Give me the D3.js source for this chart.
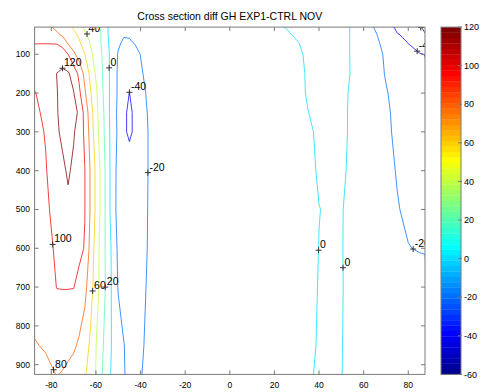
<!DOCTYPE html>
<html>
<head>
<meta charset="utf-8">
<script src="https://cdn.jsdelivr.net/npm/d3@7"></script>
<style>
  html, body { margin: 0; padding: 0; background: #fff; }
  svg { display: block; font-family: "Liberation Sans", Arial, Helvetica, sans-serif; }
</style>
</head>
<body>
<svg id="chart" width="485" height="392"></svg>
<script>
// Grid longitudes (deg) and pressure levels (hPa) of the GH difference field
const longitudes = [-87.5, -82.5, -77.5, -75, -72.5, -70, -67.5, -65, -62.5, -60, -57.5, -55, -52.5, -50,
  -47.5, -45, -42.5, -40, -37.5, -35, -32.5, -20, 0, 15, 25, 30, 35, 40, 45, 50, 55, 60, 65, 70, 75, 80, 85, 87.5];
const pressureLevels = [30, 50, 70, 100, 150, 200, 250, 300, 400, 500, 600, 700, 850, 925];

// GH difference EXP1-CTRL (m), one row per pressure level, one value per longitude
const gh30  = [91, 86, 75, 69, 64.5, 58, 49, 36, 30, 24.5, 18, 2.5, -12, -14, -15, -15, -14, -13, -12, -11, -10, -9, -8, -4, 0.3, 3, 5, 6, 5, 3, -1, -12, -21, -32, -43, -50, -59, -62];
const gh50  = [95, 91, 84, 77, 70, 64.5, 57, 44, 34, 26.5, 19.4, 3, -13, -16, -18.5, -18, -16.5, -15, -13, -12, -11, -10, -9, -5, -2.5, 1.8, 4.5, 5.5, 5, 3, -1, -11, -18, -27.5, -39, -43, -52, -59.3];
const gh70  = [99, 99, 98.5, 94, 77.3, 69.8, 62.3, 51, 38.5, 28.8, 18.7, 2.6, -6.9, -17, -23, -22.5, -18.5, -16, -14, -13, -12, -11, -10, -7, -4, -0.8, 3.2, 5, 5, 3, -1, -10, -17, -24, -33, -40.5, -48, -55];
const gh100 = [108, 110, 110, 108, 100.3, 83.9, 71.6, 60.4, 44.5, 32, 20.9, 5.6, -8.4, -21.6, -28, -30, -28, -19.5, -16, -14, -13, -12, -11, -8, -6, -2.5, 2, 4.5, 5, 3, -1, -9, -15, -22, -30, -35, -39, -40.5];
const gh150 = [105, 112, 120.3, 124.5, 122.5, 111.7, 95.5, 74, 55.6, 37.6, 23, 6.2, -9, -23, -31, -36, -33, -23, -16, -14, -13, -12, -11, -9, -7, -4, 1.5, 4, 5, 3.5, -1, -8, -14, -21, -26, -29, -32, -35];
const gh200 = [99.2, 106, 119.5, 124, 125, 121, 104, 83, 62, 44, 24, 9.7, -12.3, -22.2, -33, -40.2, -34, -27, -19.5, -15, -13.5, -12, -11, -9, -7.5, -4.5, 1.3, 4, 5, 3, -2, -8, -13, -19, -24.5, -26, -28, -30];
const gh250 = [97, 103, 119, 125, 126, 124, 118, 93, 70, 46, 28, 9, -13, -23, -37, -43, -37, -28, -21, -16, -14, -12, -11, -9.5, -8.5, -6, -0.3, 4, 5, 2.5, -2, -8, -12.5, -18, -23, -24, -25, -26];
const gh300 = [95, 101, 118, 123, 125, 121.5, 113, 96, 73, 49, 29, 10, -11, -23, -37, -43, -37, -29, -22, -16, -14, -12, -11, -10, -9, -7.5, -3, 3, 4.5, 2.5, -2, -7.5, -12, -18, -22, -23, -23.5, -24];
const gh400 = [93, 99, 110, 117, 122, 117, 110, 100.5, 78.5, 56.5, 33.6, 12.35, -11.4, -25.7, -30, -31, -30, -27, -22, -16, -14, -12, -11, -10, -9.5, -8.5, -5, 2, 4, 1.5, -2, -7, -11, -15, -21, -22, -22.5, -23];
const gh500 = [92, 98, 104, 110, 116.5, 113, 108, 100.5, 78.5, 56.5, 33.6, 12.35, -12, -26, -29, -29, -28, -26, -21.5, -16, -14, -12, -11, -10, -9.5, -9, -7, -0.3, 2, 0.5, -2.5, -6.5, -10, -14, -19, -23, -24, -25];
const gh600 = [90, 96, 102, 106, 108, 107, 104, 99, 74, 52.1, 30.5, 14.1, -6, -24, -29, -29, -28, -25, -21, -16, -14, -12, -11, -10, -9.5, -8.5, -6, 0.3, 2, 0.4, -2.5, -6, -9.5, -13, -16, -19.5, -21, -21.5];
const gh700 = [88, 93, 100.4, 100.6, 100.6, 100.4, 95, 86, 68, 50, 31, 15, -5, -21.5, -27, -28, -27, -24.5, -19.9, -16, -14, -12, -11, -10, -9, -8, -5, 0.8, 2.2, 0.5, -2.5, -5, -8, -10, -11.5, -12, -12, -12];
const gh850 = [79, 81.5, 85, 86, 85, 83, 77, 69, 57, 40.5, 25, 10, -3, -10, -19.5, -25, -26, -23, -18, -15, -13.5, -12, -11, -10, -9, -7.5, -4, 1.5, 2.5, 0.3, -2.5, -4, -6, -7, -7.5, -8, -8, -8];
const gh925 = [70, 76, 80.5, 79, 76, 72, 67, 62, 53, 39, 22, 7, -4, -11, -19, -24, -25, -21, -17, -15, -13.5, -12, -11, -10, -9, -7, -1.5, 1.5, 2.5, 0.2, -2.5, -3.5, -5, -6, -6.5, -7, -7, -7];

const contourLevels = [-60, -40, -20, 0, 20, 40, 60, 80, 100, 120];
const xTickValues = [-80, -60, -40, -20, 0, 20, 40, 60, 80];
const yTickValues = [100, 200, 300, 400, 500, 600, 700, 800, 900];
const colorTickValues = [-60, -40, -20, 0, 20, 40, 60, 80, 100, 120];
const colorLimits = [-60, 120];

// Inline contour labels: position on the line and the level it marks
const labelLon   = [-64.0, -75.0, -54.1, -45.0, -36.7, -79.4, -61.5, -55.8, -79.0, 39.8, 50.75, 82.2, 84.0, 85.6];
const labelPres  = [47.7, 136, 135, 198, 405, 590, 710, 700, 913, 605, 650, 602, 92, 31];
const labelLevel = [40, 120, 0, -40, -20, 100, 60, 20, 80, 0, 0, -20, -40, -60];

const titleText = "Cross section diff GH EXP1-CTRL NOV";

// ---- layout ----
const plot = { left: 34.6, right: 425, top: 27.1, bottom: 374.4 };
const bar = { left: 441, right: 461 };
const axisColor = "#7a7a7a";

const svg = d3.select("#chart");

const x = d3.scaleLinear().domain([-87.5, 87.5]).range([plot.left, plot.right]);
const y = d3.scaleLinear().domain([30, 925]).range([plot.top, plot.bottom]);

// MATLAB-style jet colormap
function jetColormap(m) {
  const n = Math.ceil(m / 4);
  const u = [];
  for (let i = 1; i <= n; i++) u.push(i / n);
  for (let i = 1; i < n; i++) u.push(1);
  for (let i = n; i >= 1; i--) u.push(i / n);
  const g0 = Math.ceil(n / 2) - (m % 4 === 1 ? 1 : 0);
  const J = Array.from({ length: m }, () => [0, 0, 0]);
  u.forEach((val, k) => {
    const g = g0 + k + 1, r = g + n, b = g - n;
    if (r >= 1 && r <= m) J[r - 1][0] = val;
    if (g >= 1 && g <= m) J[g - 1][1] = val;
    if (b >= 1 && b <= m) J[b - 1][2] = val;
  });
  return J.map(c => d3.rgb(c[0] * 255, c[1] * 255, c[2] * 255).formatHex());
}
const cmap = jetColormap(64);
function levelColor(v) {
  const t = (v - colorLimits[0]) / (colorLimits[1] - colorLimits[0]);
  return cmap[Math.max(0, Math.min(cmap.length - 1, Math.floor(t * cmap.length)))];
}

// ---- contours ----
const ghRows = [gh30, gh50, gh70, gh100, gh150, gh200, gh250, gh300, gh400, gh500, gh600, gh700, gh850, gh925];
const nx = longitudes.length, ny = pressureLevels.length;
const gridValues = ghRows.flat();
const contours = d3.contours().size([nx, ny]).thresholds(contourLevels)(gridValues);

// grid coordinate -> data coordinate (sample i sits at i + 0.5)
const lonAt = d3.scaleLinear().domain(longitudes.map((_, i) => i + 0.5)).range(longitudes);
const presAt = d3.scaleLinear().domain(pressureLevels.map((_, i) => i + 0.5)).range(pressureLevels);
const gridToScreen = d3.geoTransform({
  point(gx, gy) { this.stream.point(x(lonAt(gx)), y(presAt(gy))); }
});
const contourPath = d3.geoPath(gridToScreen);

svg.append("defs").append("clipPath").attr("id", "plot-clip")
  .append("rect")
  .attr("x", plot.left).attr("y", plot.top)
  .attr("width", plot.right - plot.left).attr("height", plot.bottom - plot.top);

const plotG = svg.append("g").attr("clip-path", "url(#plot-clip)");

plotG.selectAll("path.contour")
  .data(contours)
  .join("path")
  .attr("class", "contour")
  .attr("d", contourPath)
  .attr("fill", "none")
  .attr("stroke", d => levelColor(d.value))
  .attr("stroke-opacity", 0.75)
  .attr("stroke-width", 1);

// contour labels with "+" markers
const labels = labelLevel.map((lev, i) => ({ lon: labelLon[i], p: labelPres[i], level: lev }));
const labG = plotG.selectAll("g.clabel").data(labels).join("g")
  .attr("class", "clabel")
  .attr("transform", d => `translate(${x(d.lon)},${y(d.p)})`);
labG.append("path")
  .attr("d", "M-3,0H3M0,-3V3")
  .attr("stroke", "#333").attr("stroke-width", 1).attr("fill", "none");
labG.append("text")
  .attr("x", 1.5).attr("y", -2)
  .attr("font-size", 10.5)
  .attr("fill", "#000")
  .text(d => String(d.level));

// ---- axes box, ticks (inward, mirrored) ----
const tickLen = 4;
const axG = svg.append("g").attr("stroke", axisColor).attr("stroke-width", 1).attr("fill", "none");
axG.append("rect")
  .attr("x", plot.left).attr("y", plot.top)
  .attr("width", plot.right - plot.left).attr("height", plot.bottom - plot.top);
xTickValues.forEach(v => {
  const px = x(v);
  axG.append("line").attr("x1", px).attr("x2", px).attr("y1", plot.bottom).attr("y2", plot.bottom - tickLen);
  axG.append("line").attr("x1", px).attr("x2", px).attr("y1", plot.top).attr("y2", plot.top + tickLen);
});
yTickValues.forEach(v => {
  const py = y(v);
  axG.append("line").attr("x1", plot.left).attr("x2", plot.left + tickLen).attr("y1", py).attr("y2", py);
  axG.append("line").attr("x1", plot.right).attr("x2", plot.right - tickLen).attr("y1", py).attr("y2", py);
});

svg.append("g").selectAll("text").data(xTickValues).join("text")
  .attr("x", d => x(d)).attr("y", 388)
  .attr("text-anchor", "middle").attr("font-size", 8.5).attr("fill", "#000")
  .text(d => String(d));

svg.append("g").selectAll("text").data(yTickValues).join("text")
  .attr("x", 30).attr("y", d => y(d)).attr("dy", "0.35em")
  .attr("text-anchor", "end").attr("font-size", 8.5).attr("fill", "#000")
  .text(d => String(d));

// ---- title ----
svg.append("text")
  .attr("x", (plot.left + plot.right) / 2).attr("y", 20)
  .attr("text-anchor", "middle").attr("font-size", 10.5).attr("fill", "#000")
  .text(titleText);

// ---- colorbar ----
const cbScale = d3.scaleLinear().domain(colorLimits).range([plot.bottom, plot.top]);
const step = (colorLimits[1] - colorLimits[0]) / cmap.length;
svg.append("g").selectAll("rect").data(cmap).join("rect")
  .attr("x", bar.left)
  .attr("y", (d, i) => cbScale(colorLimits[0] + (i + 1) * step))
  .attr("width", bar.right - bar.left)
  .attr("height", (d, i) => cbScale(colorLimits[0] + i * step) - cbScale(colorLimits[0] + (i + 1) * step) + 0.3)
  .attr("fill", d => d);
svg.append("rect")
  .attr("x", bar.left).attr("y", plot.top)
  .attr("width", bar.right - bar.left).attr("height", plot.bottom - plot.top)
  .attr("fill", "none").attr("stroke", axisColor).attr("stroke-width", 1);
const cbTicks = svg.append("g").attr("stroke", axisColor).attr("stroke-width", 1);
colorTickValues.forEach(v => {
  cbTicks.append("line").attr("x1", bar.right - 3).attr("x2", bar.right + 1)
    .attr("y1", cbScale(v)).attr("y2", cbScale(v));
});
svg.append("g").selectAll("text").data(colorTickValues).join("text")
  .attr("x", bar.right + 3).attr("y", d => cbScale(d)).attr("dy", "0.35em")
  .attr("font-size", 9).attr("fill", "#000")
  .text(d => String(d));
</script>
</body>
</html>
